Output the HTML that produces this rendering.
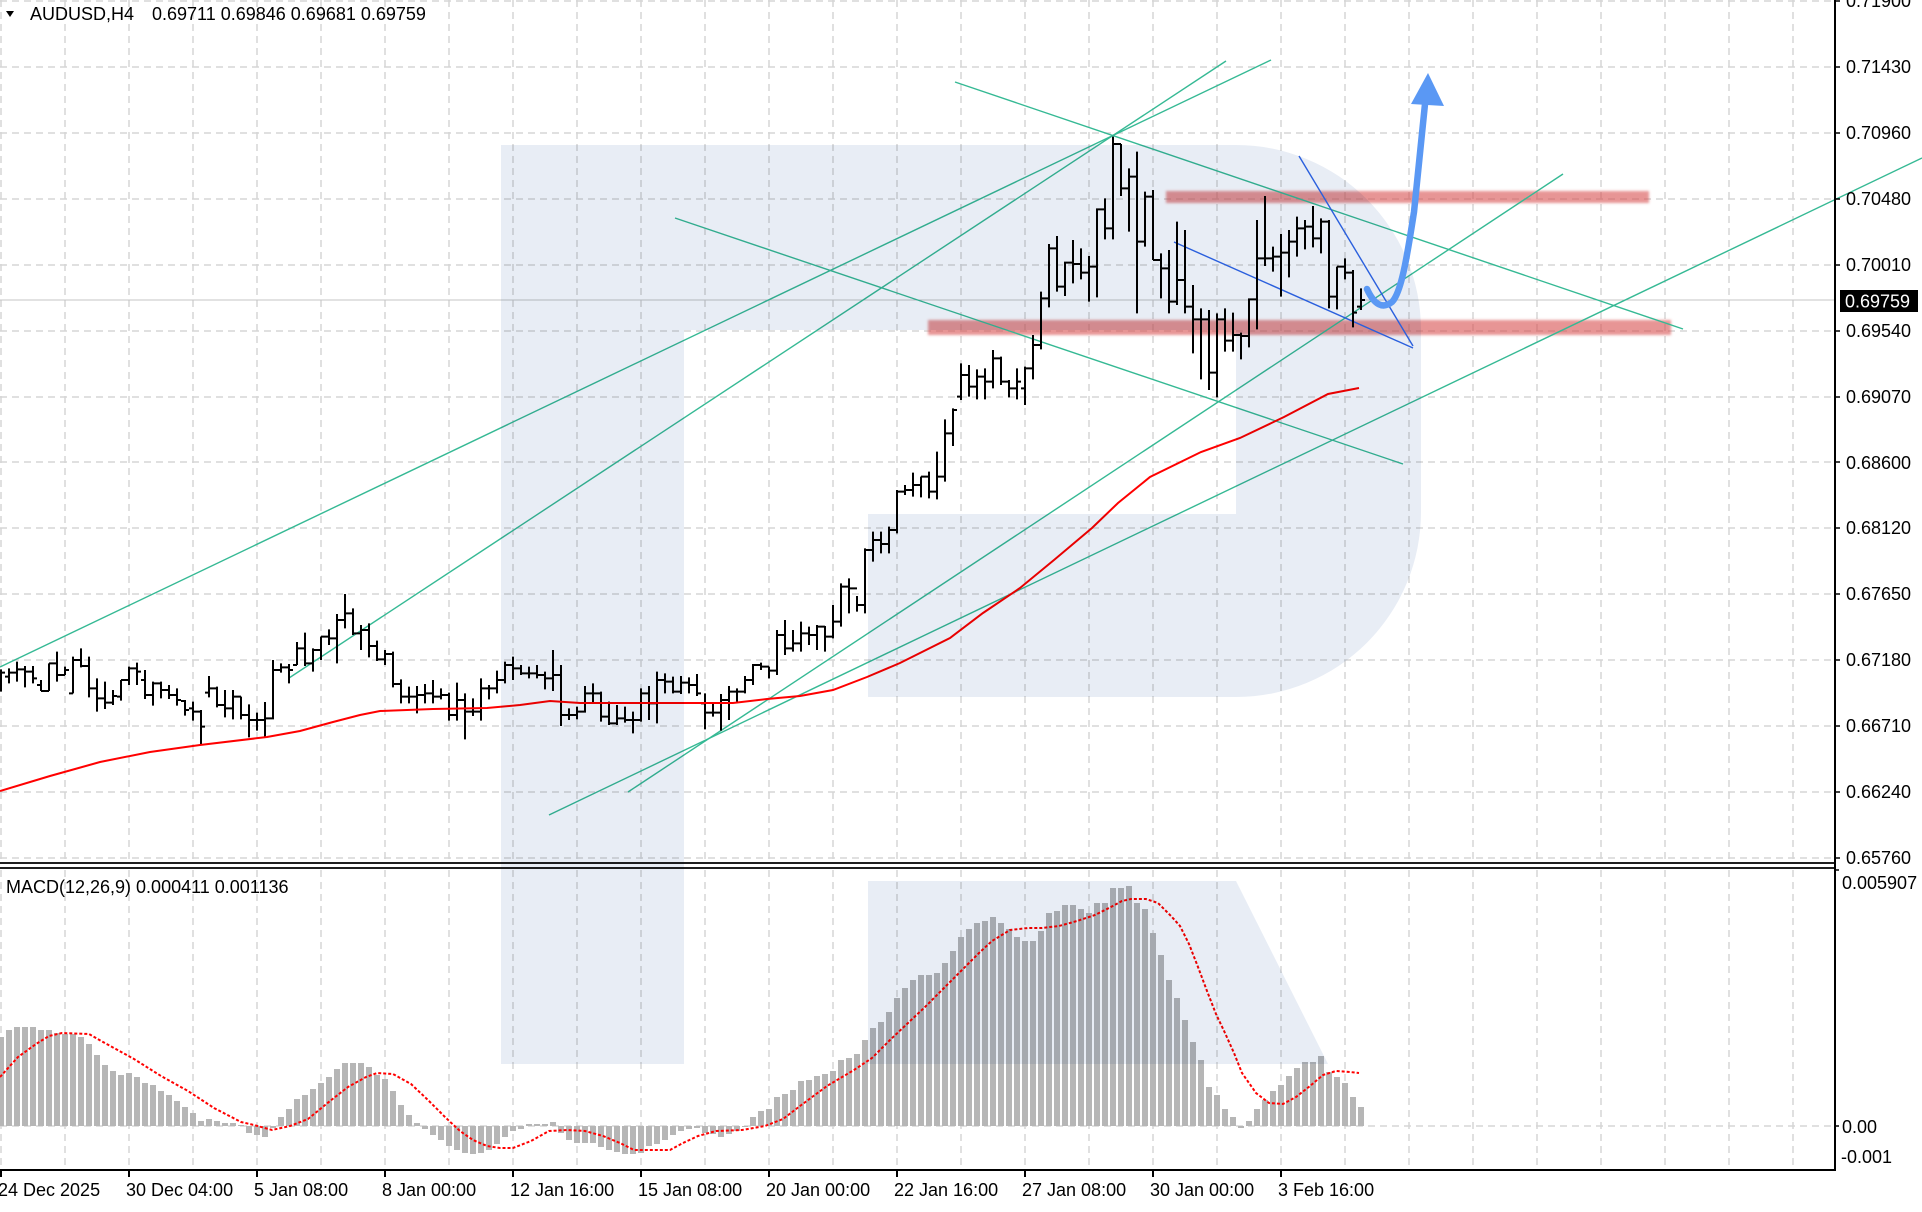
<!DOCTYPE html>
<html>
<head>
<meta charset="utf-8">
<style>
html,body{margin:0;padding:0;background:#fff;}
svg{display:block;}
text{font-family:"Liberation Sans",Arial,sans-serif;font-size:18px;fill:#000;}
</style>
</head>
<body>
<svg width="1922" height="1212" viewBox="0 0 1922 1212" xmlns="http://www.w3.org/2000/svg">
<defs>
<filter id="soft" x="-5%" y="-50%" width="110%" height="200%"><feGaussianBlur stdDeviation="1.4"/></filter>
</defs>
<rect x="0" y="0" width="1922" height="1212" fill="#fff"/>

<!-- grid -->
<g stroke="#d6d6d6" stroke-width="1.5" stroke-dasharray="7 5" fill="none">
<path d="M1 0V862M65 0V862M129 0V862M193 0V862M257 0V862M321 0V862M385 0V862M449 0V862M513 0V862M577 0V862M641 0V862M705 0V862M769 0V862M833 0V862M897 0V862M961 0V862M1025 0V862M1089 0V862M1153 0V862M1217 0V862M1281 0V862M1345 0V862M1409 0V862M1473 0V862M1537 0V862M1601 0V862M1665 0V862M1729 0V862M1793 0V862"/>
<path d="M1 870V1168M65 870V1168M129 870V1168M193 870V1168M257 870V1168M321 870V1168M385 870V1168M449 870V1168M513 870V1168M577 870V1168M641 870V1168M705 870V1168M769 870V1168M833 870V1168M897 870V1168M961 870V1168M1025 870V1168M1089 870V1168M1153 870V1168M1217 870V1168M1281 870V1168M1345 870V1168M1409 870V1168M1473 870V1168M1537 870V1168M1601 870V1168M1665 870V1168M1729 870V1168M1793 870V1168"/>
<path d="M0 1H1835M0 67H1835M0 133H1835M0 199H1835M0 265H1835M0 331H1835M0 397H1835M0 462H1835M0 528H1835M0 594H1835M0 660H1835M0 726H1835M0 792H1835M0 858H1835M0 1126H1835"/>
</g>

<!-- current price line -->
<line x1="0" y1="300" x2="1835" y2="300" stroke="#c4c4c4" stroke-width="1"/>

<!-- pink zones -->
<g filter="url(#soft)" fill="rgba(215,80,80,0.6)">
<rect x="1166" y="191" width="483" height="12"/>
<rect x="928" y="320" width="743" height="15"/>
</g>

<!-- teal trend lines -->
<g stroke="#35b994" stroke-width="1.4" fill="none">
<line x1="0" y1="667" x2="1271" y2="60"/>
<line x1="289" y1="678" x2="1226" y2="61"/>
<line x1="628" y1="792" x2="1563" y2="174"/>
<line x1="549" y1="815" x2="1922" y2="158"/>
<line x1="955" y1="82" x2="1683" y2="329"/>
<line x1="675" y1="218" x2="1403" y2="464"/>
</g>
<!-- blue thin lines -->
<g stroke="#2e66e6" stroke-width="1.4" fill="none">
<line x1="1299" y1="156" x2="1413" y2="346"/>
<line x1="1174" y1="242" x2="1413" y2="348"/>
</g>

<!-- OHLC bars -->
<g stroke="#000" stroke-width="2" fill="none">
<path transform="translate(0,580) scale(1,0.333333)" vector-effect="non-scaling-stroke" d="M1 268V335M-3 300H1M1 278H5M9 265V310M5 290H9M9 278H13M17 245V305M13 278H17M17 268H21M25 258V322M21 268H25M25 275H29M33 258V310M29 275H33M33 295H37M41 300V333M37 315H41M41 333H45M49 250V333M45 333H49M49 250H53M57 215V305M53 250H57M57 285H61M65 260V285M61 285H65M65 270H69M73 230V340M69 340H73M73 240H77M81 205V262M77 240H81M81 258H85M89 230V352M85 258H89M89 325H93M97 295V395M93 325H97M97 355H101M105 305V387M101 355H105M105 368H109M113 330V375M109 368H113M113 348H117M121 300V362M117 350H121M121 300H125M129 260V315M125 300H129M129 265H133M137 248V315M133 265H137M137 275H141M145 270V357M141 300H145M145 345H149M153 305V377M149 345H153M153 310H157M161 305V355M157 310H161M161 330H165M169 315V357M165 330H169M169 345H173M177 325V377M173 345H177M177 360H181M185 360V407M181 363H185M185 390H189M193 365V422M189 385H193M193 395H197M201 390V493M197 395H201M201 440H205M209 288V352M205 338H209M209 325H213M217 320V382M213 325H217M217 375H221M225 330V412M221 375H225M225 385H229M233 330V418M229 385H233M233 350H237M241 350V418M237 350H241M241 405H245M249 373V472M245 405H249M249 420H253M257 398V452M253 420H257M257 420H261M265 366V472M261 420H265M265 415H269M273 240V418M269 415H273M273 270H277M281 250V278M277 270H281M281 262H285M289 252V310M285 262H289M289 270H293M297 186V255M293 255H297M297 205H301M305 158V258M301 205H305M305 250H309M313 205V275M309 250H313M313 210H317M321 170V240M317 210H321M321 170H325M329 148V195M325 170H329M329 175H333M337 102V250M333 175H337M337 120H341M345 42V145M341 120H345M345 100H349M353 85V165M349 100H353M353 160H357M361 135V210M357 160H361M361 150H365M369 130V232M365 150H369M369 198H373M377 182V243M373 198H377M377 238H381M385 210V255M381 238H385M385 222H389M393 215V322M389 222H393M393 312H397M401 298V370M397 312H401M401 350H405M409 320V370M405 350H409M409 350H413M417 318V400M413 350H417M417 345H421M425 312V370M421 345H425M425 340H429M433 300V370M429 340H433M433 350H437M441 325V358M437 350H441M441 345H445M449 338V422M445 345H449M449 405H453M457 308V422M453 405H457M457 360H461M465 340V478M461 360H465M465 395H469M473 355V408M469 395H473M473 395H477M481 295V422M477 395H481M481 325H485M489 315V358M485 325H489M489 325H493M497 272V340M493 325H497M497 300H501M505 245V310M501 300H505M505 255H509M513 230V300M509 255H513M513 265H517"/>
<path transform="translate(0,320) scale(1,0.333333)" vector-effect="non-scaling-stroke" d="M521 1035V1065M517 1045H521M521 1060H525M529 1040V1075M525 1060H529M529 1060H533M537 1035V1075M533 1060H537M537 1065H541M545 1055V1108M541 1065H545M545 1075H549M553 990V1113M549 1075H553M553 1065H557M561 1035V1218M557 1065H561M561 1185H565M569 1165V1200M565 1185H569M569 1185H573M577 1160V1198M573 1185H577M577 1175H581M585 1098V1178M581 1175H585M585 1120H589M593 1090V1150M589 1120H593M593 1120H597M601 1115V1205M597 1120H601M601 1190H605M609 1145V1215M605 1190H609M609 1210H613M617 1155V1215M613 1210H617M617 1195H621M625 1160V1208M621 1195H625M625 1200H629M633 1175V1240M629 1200H633M633 1200H637M641 1105V1205M637 1200H641M641 1120H645M649 1098V1200M645 1120H649M649 1150H653M657 1055V1210M653 1150H657M657 1080H661M665 1060V1120M661 1080H665M665 1085H669M673 1070V1120M669 1085H673M673 1115H677M681 1068V1122M677 1115H681M681 1088H685M689 1072V1120M685 1088H689M689 1095H693M697 1062V1128M693 1095H697M697 1120H701M705 1120V1228M701 1150H705M705 1178H709M713 1150V1190M709 1178H713M713 1178H717M721 1122V1232M717 1178H721M721 1140H725M729 1098V1200M725 1140H729M729 1115H733M737 1105V1145M733 1115H737M737 1115H741M745 1068V1120M741 1115H745M745 1080H749M753 1032V1095M749 1080H753M753 1035H757M761 1028V1050M757 1035H761M761 1040H765M769 1040V1075M765 1040H769M769 1052H773M777 930V1065M773 1052H777M777 945H781M785 900V1005M781 945H785M785 985H789M793 930V995M789 985H793M793 970H797M801 905V995M797 970H801M801 940H805M809 920V975M805 940H809M809 945H813M817 915V990M813 945H817M817 920H821M825 918V995M821 920H825M825 950H829M833 855V955M829 950H833M833 905H837M841 790V920M837 905H841M841 800H845M849 775V880M845 800H849M849 805H853M857 828V875M853 805H857M857 855H861M865 685V880M861 855H865M865 690H869M873 635V725M869 690H873M873 660H877M881 635V700M877 660H881M881 672H885M889 620V700M885 672H889M889 630H893M897 510V640M893 630H897M897 515H901M905 495V525M901 515H905M905 510H909M913 458V530M909 510H913M913 495H917M921 470V532M917 495H921M921 470H925M929 455V535M925 470H929M929 515H933M937 395V538M933 515H937M937 470H941M945 298V485M941 470H945M945 340H949M953 265V378M949 340H953M953 270H957M961 130V240M957 230H961M961 165H965M969 135V230M965 165H969M969 200H973M977 148V238M973 200H977M977 170H981M985 145V238M981 170H985M985 185H989M993 90V205M989 185H993M993 115H997M1001 110V195M997 115H1001M1001 185H1005M1009 180V232M1005 185H1009M1009 205H1013M1017 145V238M1013 205H1017M1017 185H1021"/>
<path transform="translate(0,120) scale(1,0.333333)" vector-effect="non-scaling-stroke" d="M1025 740V855M1021 805H1025M1025 745H1029M1033 645V778M1029 745H1033M1033 675H1037M1041 515V688M1037 675H1041M1041 535H1045M1049 372V562M1045 535H1049M1049 385H1053M1057 348V515M1053 385H1057M1057 500H1061M1065 425V528M1061 500H1065M1065 428H1069M1073 360V490M1069 428H1073M1073 432H1077M1081 385V478M1077 432H1081M1081 458H1085M1089 408V545M1085 458H1089M1089 440H1093M1097 265V532M1093 440H1097M1097 268H1101M1105 235V358M1101 268H1105M1105 325H1109M1113 50V358M1109 325H1113M1113 72H1117M1121 72V228M1117 72H1121M1121 205H1125M1129 145V335M1125 205H1129M1129 170H1133M1137 95V580M1133 170H1137M1137 365H1141M1145 215V380M1141 365H1145M1145 230H1149M1153 210V420M1149 230H1153M1153 420H1157M1161 400V535M1157 420H1161M1161 445H1165M1169 390V580M1165 445H1169M1169 545H1173M1177 305V555M1173 545H1177M1177 480H1181M1185 330V580M1181 480H1185M1185 560H1189M1193 495V700M1189 560H1193M1193 598H1197M1201 565V778M1197 598H1201M1201 598H1205M1209 570V810M1205 598H1209M1209 758H1213M1217 580V832M1213 758H1217M1217 598H1221M1225 565V695M1221 598H1225M1225 662H1229M1233 578V695M1229 662H1233M1233 645H1237M1241 638V718M1237 645H1241M1241 648H1245M1249 535V682M1245 648H1249M1249 538H1253M1257 300V628M1253 538H1257M1257 415H1261M1265 228V438M1261 415H1265M1265 415H1269M1273 380V455M1269 415H1273M1273 410H1277M1281 342V530M1277 410H1281M1281 398H1285M1289 330V472M1285 398H1289M1289 365H1293M1297 290V410M1293 365H1297M1297 325H1301M1305 300V388M1301 325H1305M1305 320H1309M1313 258V382M1309 320H1313M1313 355H1317M1321 295V400M1317 355H1321M1321 305H1325M1329 300V565M1325 305H1329M1329 530H1333M1337 440V568M1333 530H1337M1337 440H1341M1345 415V478M1341 440H1345M1345 458H1349M1353 450V622M1349 458H1353M1353 578H1357M1361 505V570M1357 560H1361M1361 540H1365"/>
</g>

<!-- moving average -->
<polyline fill="none" stroke="#ff0000" stroke-width="2" points="0,791 50,776 100,762 150,752 200,745 267,737 300,731 333,722 360,715 380,711 433,709 487,708 520,705 550,701 580,703 733,703 767,699 800,696 833,690 867,677 900,663 950,638 983,613 1020,588 1054,560 1092,528 1118,503 1150,477 1201,452 1240,438 1284,417 1328,394 1359,388"/>

<!-- MACD histogram -->
<path fill="none" stroke="#b6b6b6" stroke-width="6" d="M1 1126V1037M9 1126V1030M17 1126V1027M25 1126V1027M33 1126V1027M41 1126V1030M49 1126V1030M57 1126V1033M65 1126V1034M73 1126V1034M81 1126V1037M89 1126V1044M97 1126V1055M105 1126V1065M113 1126V1071M121 1126V1075M129 1126V1073M137 1126V1077M145 1126V1083M153 1126V1085M161 1126V1091M169 1126V1095M177 1126V1101M185 1126V1107M193 1126V1113M201 1126V1121M209 1126V1119M217 1126V1121M225 1126V1123M233 1126V1123M241 1126V1125M249 1126V1133M257 1126V1135M265 1126V1137M273 1126V1128M281 1126V1117M289 1126V1109M297 1126V1099M305 1126V1095M313 1126V1089M321 1126V1083M329 1126V1077M337 1126V1069M345 1126V1063M353 1126V1063M361 1126V1063M369 1126V1067M377 1126V1075M385 1126V1079M393 1126V1091M401 1126V1105M409 1126V1115M417 1126V1123M425 1126V1129M433 1126V1135M441 1126V1140M449 1126V1146M457 1126V1150M465 1126V1153M473 1126V1154M481 1126V1153M489 1126V1150M497 1126V1144M505 1126V1137M513 1126V1131M521 1126V1129M529 1126V1124M537 1126V1124M545 1126V1124M553 1126V1122M561 1126V1133M569 1126V1140M577 1126V1143M585 1126V1143M593 1126V1143M601 1126V1147M609 1126V1150M617 1126V1152M625 1126V1154M633 1126V1154M641 1126V1153M649 1126V1146M657 1126V1144M665 1126V1140M673 1126V1135M681 1126V1131M689 1126V1129M697 1126V1128M705 1126V1133M713 1126V1134M721 1126V1137M729 1126V1134M737 1126V1131M745 1126V1127M753 1126V1117M761 1126V1111M769 1126V1109M777 1126V1097M785 1126V1094M793 1126V1090M801 1126V1081M809 1126V1080M817 1126V1076M825 1126V1074M833 1126V1071M841 1126V1060M849 1126V1058M857 1126V1054M865 1126V1040M873 1126V1028M881 1126V1022M889 1126V1012M897 1126V998M905 1126V988M913 1126V980M921 1126V975M929 1126V975M937 1126V973M945 1126V963M953 1126V951M961 1126V937M969 1126V929M977 1126V923M985 1126V921M993 1126V917M1001 1126V923M1009 1126V929M1017 1126V937M1025 1126V941M1033 1126V941M1041 1126V931M1049 1126V913M1057 1126V911M1065 1126V905M1073 1126V905M1081 1126V909M1089 1126V913M1097 1126V903M1105 1126V903M1113 1126V888M1121 1126V888M1129 1126V886M1137 1126V903M1145 1126V909M1153 1126V933M1161 1126V955M1169 1126V980M1177 1126V998M1185 1126V1020M1193 1126V1042M1201 1126V1060M1209 1126V1087M1217 1126V1095M1225 1126V1109M1233 1126V1117M1241 1126V1128M1249 1126V1121M1257 1126V1109M1265 1126V1100M1273 1126V1091M1281 1126V1085M1289 1126V1076M1297 1126V1068M1305 1126V1062M1313 1126V1062M1321 1126V1056M1329 1126V1072M1337 1126V1077M1345 1126V1083M1353 1126V1097M1361 1126V1107"/>

<!-- MACD signal -->
<polyline fill="none" stroke="#ff0000" stroke-width="2" stroke-dasharray="3 2" points="0,1077 18,1057 36,1044 49,1036 62,1033 89,1034 103,1042 134,1059 161,1076 188,1091 214,1108 241,1122 254,1125 272,1130 290,1126 308,1119 330,1101 348,1087 366,1077 377,1073 393,1074 411,1084 429,1101 446,1118 460,1131 473,1140 487,1146 500,1148 513,1148 531,1141 549,1131 567,1130 585,1131 603,1136 620,1143 634,1150 643,1150 670,1150 683,1143 698,1136 716,1131 742,1130 765,1126 783,1119 800,1106 827,1086 854,1070 872,1058 890,1040 908,1023 925,1007 943,989 961,971 979,953 992,941 1010,930 1028,928 1042,928 1059,926 1077,921 1095,915 1109,908 1122,901 1131,899 1146,899 1158,903 1171,916 1180,926 1189,944 1198,967 1207,991 1216,1014 1225,1033 1234,1053 1242,1073 1256,1093 1269,1103 1283,1104 1296,1097 1310,1086 1323,1075 1336,1071 1350,1072 1359,1073"/>

<!-- logo watermark -->
<g fill="#e8edf5" style="mix-blend-mode:multiply">
<path d="M501 145H1236A185 185 0 0 1 1421 330V512A185 185 0 0 1 1236 697H868V514H1236V330H684V1064H501Z"/>
<path d="M868 881H1236L1328 1064H868Z"/>
</g>

<!-- big blue arrow -->
<path d="M1367 289Q1378 313 1392 302C1402 292 1408 250 1414 212L1425 104" fill="none" stroke="#5a98f4" stroke-width="6.5" stroke-linecap="round" stroke-linejoin="round"/>
<polygon points="1428,73 1444,106 1411,104" fill="#5a98f4"/>

<!-- panel borders / axes -->
<g stroke="#000" fill="none">
<line x1="0" y1="863" x2="1836" y2="863" stroke-width="1.8"/>
<line x1="0" y1="868" x2="1836" y2="868" stroke-width="1.8"/>
<line x1="1835" y1="0" x2="1835" y2="1171" stroke-width="2"/>
<line x1="0" y1="1170" x2="1836" y2="1170" stroke-width="2"/>
<path stroke-width="1.5" d="M1835 1H1840M1835 67H1840M1835 133H1840M1835 199H1840M1835 265H1840M1835 331H1840M1835 397H1840M1835 462H1840M1835 528H1840M1835 594H1840M1835 660H1840M1835 726H1840M1835 792H1840M1835 858H1840M1835 870H1839M1835 1126H1839"/>
<path stroke-width="2" d="M1 1170V1177M129 1170V1177M257 1170V1177M385 1170V1177M513 1170V1177M641 1170V1177M769 1170V1177M897 1170V1177M1025 1170V1177M1153 1170V1177M1281 1170V1177"/>
</g>

<!-- price axis labels -->
<g>
<text x="1846" y="7">0.71900</text>
<text x="1846" y="73">0.71430</text>
<text x="1846" y="139">0.70960</text>
<text x="1846" y="205">0.70480</text>
<text x="1846" y="271">0.70010</text>
<text x="1846" y="337">0.69540</text>
<text x="1846" y="403">0.69070</text>
<text x="1846" y="469">0.68600</text>
<text x="1846" y="534">0.68120</text>
<text x="1846" y="600">0.67650</text>
<text x="1846" y="666">0.67180</text>
<text x="1846" y="732">0.66710</text>
<text x="1846" y="798">0.66240</text>
<text x="1846" y="864">0.65760</text>
</g>
<rect x="1840" y="290" width="78" height="22" fill="#000"/>
<text x="1845" y="307.5" style="fill:#fff">0.69759</text>

<!-- MACD axis labels -->
<text x="1842" y="889">0.005907</text>
<text x="1842" y="1133">0.00</text>
<text x="1841" y="1163">-0.001</text>

<!-- time axis labels -->
<g>
<text x="-2" y="1196">24 Dec 2025</text>
<text x="126" y="1196">30 Dec 04:00</text>
<text x="254" y="1196">5 Jan 08:00</text>
<text x="382" y="1196">8 Jan 00:00</text>
<text x="510" y="1196">12 Jan 16:00</text>
<text x="638" y="1196">15 Jan 08:00</text>
<text x="766" y="1196">20 Jan 00:00</text>
<text x="894" y="1196">22 Jan 16:00</text>
<text x="1022" y="1196">27 Jan 08:00</text>
<text x="1150" y="1196">30 Jan 00:00</text>
<text x="1278" y="1196">3 Feb 16:00</text>
</g>

<!-- titles -->
<polygon points="6,11 14,11 10,17" fill="#000"/>
<text x="30" y="20">AUDUSD,H4</text>
<text x="152" y="20">0.69711 0.69846 0.69681 0.69759</text>
<text x="6" y="893">MACD(12,26,9) 0.000411 0.001136</text>
</svg>
</body>
</html>
